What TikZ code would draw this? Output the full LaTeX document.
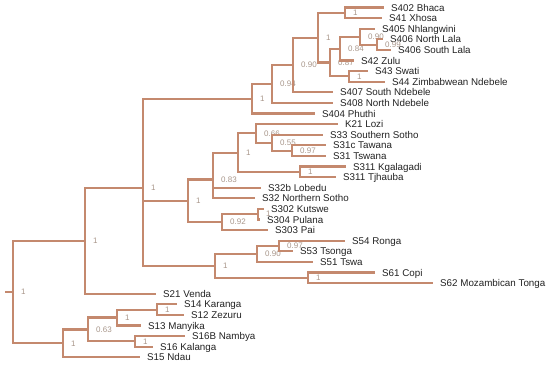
\documentclass[tikz,border=0pt]{standalone}
\usepackage{fontspec}
\setmainfont{Liberation Sans}
\providecommand{\Branch}{C4896E}
\providecommand{\Support}{A8968A}
\providecommand{\Ink}{222222}
\newcommand{\Unit}{1pt}
\newcommand{\Edge}{2.1pt}
\newcommand{\RowTop}{7.5}
\newcommand{\RowGap}{10.6}
\definecolor{branch}{HTML}{\Branch}
\definecolor{support}{HTML}{\Support}
\definecolor{ink}{HTML}{\Ink}

\tikzset{
  leaf/.style={anchor=west, inner xsep=7pt, inner ysep=0pt, text height=7pt,
    text depth=0pt, text=ink, font=\fontsize{9.8}{11}\selectfont},
  supp/.style={anchor=west, inner sep=0pt, xshift=8pt, text=support,
    font=\fontsize{8}{9}\selectfont},
  branch/.style={draw=branch, line width=\Edge},
}

\begin{document}
\begin{tikzpicture}[x=\Unit,y=-\Unit]
  \useasboundingbox (0,0) rectangle (550,368);

  % ---- tips, one row each, top to bottom -----------------------------------
  \foreach \n/\t/\x [count=\i from 0] in {
      bhaca/S402 Bhaca/384, xhosa/S41 Xhosa/382, nhlan/S405 Nhlangwini/375,
      lalan/S406 North Lala/383, lalas/S406 South Lala/391, zulu/S42 Zulu/354,
      swati/S43 Swati/368, zimnd/S44 Zimbabwean Ndebele/385,
      sndeb/S407 South Ndebele/333, nndeb/S408 North Ndebele/333,
      phuthi/S404 Phuthi/315, lozi/K21 Lozi/338, ssotho/S33 Southern Sotho/323,
      tawana/S31c Tawana/326, tswana/S31 Tswana/326, kgala/S311 Kgalagadi/346,
      tjhau/S311 Tjhauba/336, lobedu/S32b Lobedu/261,
      nsotho/S32 Northern Sotho/255, kutswe/S302 Kutswe/264,
      pulana/S304 Pulana/260, pai/S303 Pai/268, ronga/S54 Ronga/345,
      tsonga/S53 Tsonga/293, tswa/S51 Tswa/313, copi/S61 Copi/375,
      mtonga/S62 Mozambican Tonga/433, venda/S21 Venda/156,
      karanga/S14 Karanga/177, zezuru/S12 Zezuru/184, manyika/S13 Manyika/141,
      nambya/S16B Nambya/185, kalanga/S16 Kalanga/153, ndau/S15 Ndau/140} {
    \pgfmathsetmacro\y{\RowTop+\RowGap*\i}
    \node[leaf] (\n) at (\x,\y) {\t};
  }

  % ---- inner nodes, with their support values ------------------------------
  \foreach \n/\x/\y/\s in {
      bx/345/12.8/1, n6/377/44.6/0.99, n5/360/36.65/0.90, n3/340/48.6/0.84,
      n4/349/76.4/1, n2/330/62.5/0.87, n1/318/37.65/1, nn/293/65/0.90,
      nm/272/84/0.94, ng/252/98.7/1,
      t3/292/150.6/0.97, t2/272/142.7/0.55, t1/256/133.4/0.66, kt/300/171.8/1,
      lz/238/152.6/1, so/213/179.5/0.83, kp/258/214.2/1, pa/222/222.2/0.92,
      st/188/200.8/1,
      rt/279/246/0.97, ts/257/254/0.90, cp/308/277.8/1, tn/215/265.9/1,
      n0/143/188.2/1, up/85/241/1,
      kz/157/309.6/1, km/117/317.5/1, nk/135/341.4/1, sh/88/329.5/0.63,
      lo/63/343.4/1, root/13/292.2/1} {
    \coordinate (\n) at (\x,\y);
    \node[supp] (\n-s) at (\n) {\s};
  }
  \coordinate (stub) at (5,292.2);

  % ---- branches -------------------------------------------------------------
  \draw[branch] (stub) -- (root);
  \foreach \p/\c in {
      root/up, root/lo, up/n0, up/venda.west,
      n0/ng, n0/st, n0/tn,
      ng/nm, ng/phuthi.west, nm/nn, nm/nndeb.west, nn/n1, nn/sndeb.west,
      n1/bx, n1/n2, bx/bhaca.west, bx/xhosa.west,
      n2/n3, n2/n4, n3/n5, n3/zulu.west, n5/nhlan.west, n5/n6,
      n6/lalan.west, n6/lalas.west, n4/swati.west, n4/zimnd.west,
      st/so, st/pa, so/lz, so/lobedu.west, so/nsotho.west,
      lz/t1, lz/kt, t1/lozi.west, t1/t2, t2/ssotho.west, t2/t3,
      t3/tawana.west, t3/tswana.west, kt/kgala.west, kt/tjhau.west,
      pa/kp, pa/pai.west, kp/kutswe.west, kp/pulana.west,
      tn/ts, tn/cp, ts/rt, ts/tswa.west, rt/ronga.west, rt/tsonga.west,
      cp/copi.west, cp/mtonga.west,
      lo/sh, lo/ndau.west, sh/km, sh/nk, km/kz, km/manyika.west,
      kz/karanga.west, kz/zezuru.west, nk/nambya.west, nk/kalanga.west} {
    \draw[branch] (\p) |- (\c);
  }

\end{tikzpicture}
\end{document}
